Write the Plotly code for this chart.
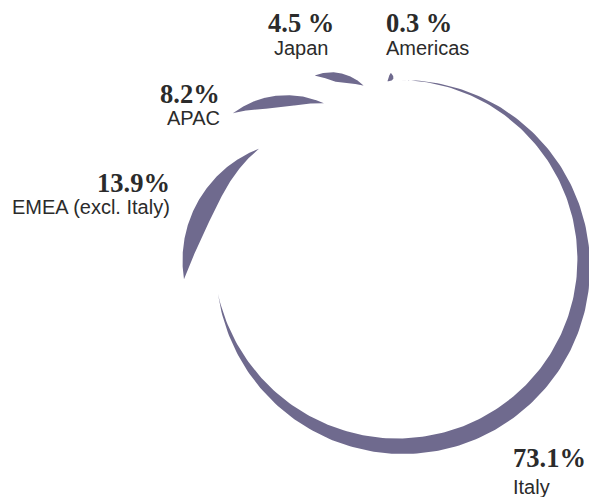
import numpy as np
import plotly.graph_objects as go

# Revenue share by geographic area (%)
regions = ["Italy", "EMEA (excl. Italy)", "APAC", "Japan", "Americas"]
shares = [73.1, 13.9, 8.2, 4.5, 0.3]

W, H = 589, 497
RING_R = 187.0          # 100 % equals the circumference of a circle with this radius
MIN_LEN = 9.0           # shortest arc drawn, so tiny shares stay visible
ARC_COLOR = "#6f6a8e"
TEXT_COLOR = "#2b2b2b"
SERIF = "Liberation Serif"
SANS = "Liberation Sans"

# Each share is drawn as a crescent bent on its own circle:
# centre (cx, cy), radius r, start angle in degrees (counter-clockwise from +x),
# peak width, a skew that moves the thickest point along the arc,
# and a power that rounds off the tips.
arc_style = {
    "Italy":              dict(cx=403.0, cy=267.0, r=187.0, start=91.5, width=17.0, skew=1.24, power=1.0),
    "EMEA (excl. Italy)": dict(cx=302.5, cy=260.4, r=120.0, start=189.0, width=19.0, skew=0.85, power=1.0),
    "APAC":               dict(cx=286.6, cy=183.7, r=88.6, start=127.4, width=12.0, skew=1.0, power=1.0),
    "Japan":              dict(cx=331.4, cy=117.7, r=45.4, start=111.7, width=9.5, skew=1.0, power=1.0),
    "Americas":           dict(cx=412.0, cy=86.0, r=25.0, start=169.0, width=5.0, skew=1.0, power=0.5),
}

# Label placement: x, anchor, vertical centre of the value line and of the name line
label_style = {
    "Italy":              dict(x=511.0, anchor="left", y_val=457.7, y_name=487.3, sep=""),
    "EMEA (excl. Italy)": dict(x=171.5, anchor="right", y_val=182.7, y_name=206.6, sep=""),
    "APAC":               dict(x=221.5, anchor="right", y_val=94.3, y_name=117.8, sep=""),
    "Japan":              dict(x=301.0, anchor="center", y_val=23.3, y_name=48.3, sep=" "),
    "Americas":           dict(x=384.0, anchor="left", y_val=23.3, y_name=48.3, sep=" "),
}


def crescent(share, cx, cy, r, start, width, skew, power, n=240):
    """Outline of a crescent whose outer arc length is proportional to the share."""
    length = max(share / 100.0 * 2 * np.pi * RING_R, MIN_LEN)
    sweep = length / r
    t = np.linspace(0.0, 1.0, n)
    theta = np.radians(start) - sweep * t          # clockwise
    thick = width * np.sin(np.pi * t ** skew) ** power
    xo = cx + r * np.cos(theta)
    yo = cy - r * np.sin(theta)
    ri = r - thick
    xi = cx + ri * np.cos(theta)
    yi = cy - ri * np.sin(theta)
    xs = np.concatenate([xo, xi[::-1], xo[:1]])
    ys = np.concatenate([yo, yi[::-1], yo[:1]])
    return xs, ys


fig = go.Figure()

for name, value in zip(regions, shares):
    xs, ys = crescent(value, **arc_style[name])
    fig.add_trace(go.Scatter(
        x=xs, y=ys, mode="lines", fill="toself",
        fillcolor=ARC_COLOR, line=dict(width=0, color=ARC_COLOR),
        hoverinfo="text", text=f"{name}: {value}%", showlegend=False,
    ))

annotations = []
for name, value in zip(regions, shares):
    st = label_style[name]
    annotations.append(dict(
        x=st["x"], y=st["y_val"], xref="x", yref="y",
        text=f"<b>{value:.1f}{st['sep']}%</b>", showarrow=False,
        xanchor=st["anchor"], yanchor="middle",
        font=dict(family=SERIF, size=26.5, color=TEXT_COLOR),
    ))
    annotations.append(dict(
        x=st["x"], y=st["y_name"], xref="x", yref="y",
        text=name, showarrow=False,
        xanchor=st["anchor"], yanchor="middle",
        font=dict(family=SANS, size=20, color=TEXT_COLOR),
    ))

fig.update_layout(
    width=W, height=H,
    margin=dict(l=0, r=0, t=0, b=0),
    paper_bgcolor="white", plot_bgcolor="white",
    xaxis=dict(range=[0, W], visible=False, fixedrange=True),
    yaxis=dict(range=[H, 0], visible=False, fixedrange=True),
    annotations=annotations,
    showlegend=False,
)

fig.write_html("out.html")
